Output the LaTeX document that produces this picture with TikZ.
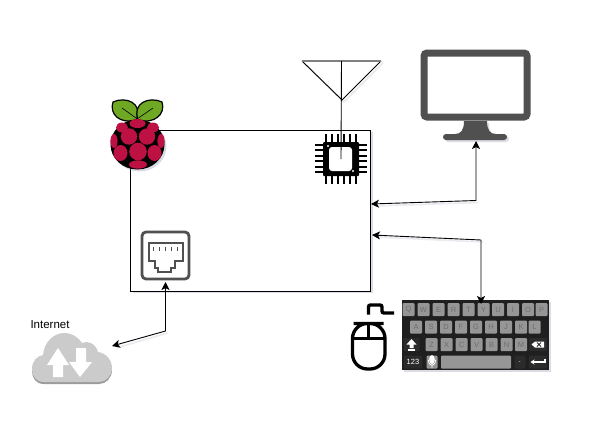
\documentclass[tikz,border=0pt]{standalone}
\usepackage{fontspec}
\setmainfont{Liberation Sans}
\usetikzlibrary{arrows.meta,shadows}
\definecolor{iconGray}{HTML}{505050}
\definecolor{keyGray}{HTML}{969696}
\definecolor{keyDark}{HTML}{2B2B2B}
\definecolor{keyText}{HTML}{6E6E6E}
\definecolor{cloudGray}{HTML}{CBCBCB}
\definecolor{cloudEdge}{HTML}{9C9C9C}
\definecolor{berry}{HTML}{BC1142}
\definecolor{leaf}{HTML}{6FA823}
\definecolor{shade}{HTML}{8A8AA8}
\tikzset{%
  soft/.style={
    drop shadow={shadow xshift=2pt,shadow yshift=-2pt,fill=shade,opacity=0.3}
  },
  softline/.style={
    draw=shade,
    opacity=0.18,
    line width=1.6pt,
    xshift=2pt,
    yshift=-2pt
  },
  link/.style={
    <->,
    >={Stealth[length=8pt,width=8pt,inset=2pt]},
    line width=0.9pt
  },
  key/.style={
    fill=keyGray,
    rounded corners=1pt,
    minimum width=12pt,
    minimum height=13pt,
    inner sep=0pt,
    text=keyText,
    font=\fontsize{7.5}{8}\selectfont
  },
  dark key/.style={
    key,
    fill=keyDark,
    minimum width=16pt,
    text=white
  },
  pin/.style={
    line width=2pt
  },
}

\begin{document}
\begin{tikzpicture}[x=1pt,y=-1pt]
  \useasboundingbox (0,0) rectangle (594,424);
  % board
  \node [draw=black, fill=white, soft, line width=0.9pt, inner sep=0pt, outer sep=0pt,
    minimum width=240pt, minimum height=161pt] (board) at (250.5,210.5) { };
  \coordinate (board-screen) at (371,204);
  \coordinate (board-keys) at (372,235);
  % antenna
  \draw [softline] (302,61) -- (342,100) -- (381,61);
  \draw [line width=0.9pt] (302,61) -- (342,100) -- (381,61);
  \draw [draw=gray, line width=1.3pt] (302,61) -- (381,61);
  \coordinate (antenna) at (341.5,61);
  % chip
  \draw [pin] (325.5,134) -- (325.5,142) (331.5,134) -- (331.5,142) (337.5,134) -- (337.5,142)
    (343.5,134) -- (343.5,142) (349.5,134) -- (349.5,142) (355.5,134) -- (355.5,142);
  \draw [pin] (325.5,176) -- (325.5,184) (331.5,176) -- (331.5,184) (337.5,176) -- (337.5,184)
    (343.5,176) -- (343.5,184) (349.5,176) -- (349.5,184) (355.5,176) -- (355.5,184);
  \draw [pin] (315,144.5) -- (323,144.5) (315,150) -- (323,150) (315,155.5) -- (323,155.5)
    (315,161) -- (323,161) (315,166.5) -- (323,166.5) (315,172) -- (323,172);
  \draw [pin] (359,144.5) -- (367,144.5) (359,150) -- (367,150) (359,155.5) -- (367,155.5)
    (359,161) -- (367,161) (359,166.5) -- (367,166.5) (359,172) -- (367,172);
  \node [fill=black, rounded corners=1pt, inner sep=0pt, minimum width=36pt, minimum height=34pt] (chip) at (341,159) { };
  \node [fill=white, rounded corners=3pt, inner sep=0pt, minimum width=23pt, minimum height=24pt] (die) at (340.5,159) { };
  \fill [white] (328,146) circle [radius=1.2pt] (353,171) circle [radius=1.2pt];
  \draw [line width=0.9pt] (antenna) -- (chip.center);
  % raspberry
  \fill [black, soft] (137.5,144.5) ellipse [x radius=27pt, y radius=25pt];
  \draw [draw=black, fill=leaf, line width=1.2pt] (136.5,119.5) .. controls (120,125) and (109,114) .. (113,102)
    .. controls (126,96) and (143,103) .. (136.5,119.5) -- cycle;
  \draw [draw=black, fill=leaf, line width=1.2pt] (138,119.5) .. controls (154,125) and (166,114) .. (162,102)
    .. controls (149,96) and (132,103) .. (138,119.5) -- cycle;
  \draw [black, line width=0.6pt] (136,118) -- (122,108) (138.5,118) -- (153,108);
  \fill [berry] (137.5,123.5) ellipse [x radius=8pt, y radius=4.5pt];
  \fill [berry] (122,127.5) ellipse [x radius=6pt, y radius=5pt];
  \fill [berry] (153,127.5) ellipse [x radius=6pt, y radius=5pt];
  \fill [berry] (129,136.5) ellipse [x radius=8.2pt, y radius=8.2pt];
  \fill [berry] (147,136.5) ellipse [x radius=8.2pt, y radius=8.2pt];
  \fill [berry] (114,141) ellipse [x radius=3.6pt, y radius=7pt];
  \fill [berry] (161,141) ellipse [x radius=3.6pt, y radius=7pt];
  \fill [berry] (138,151.5) ellipse [x radius=8.8pt, y radius=8.8pt];
  \fill [berry] (120.5,153) ellipse [x radius=7pt, y radius=8pt];
  \fill [berry] (154.5,153) ellipse [x radius=7pt, y radius=8pt];
  \fill [berry] (138,164.5) ellipse [x radius=9pt, y radius=4.2pt];
  % monitor
  \node [draw=iconGray, fill=white, soft, line width=7pt, rounded corners=3pt, inner sep=0pt,
    minimum width=103pt, minimum height=64pt] (screen) at (475.5,85) { };
  \fill [iconGray, soft] (464,121) -- (487,121) .. controls (487,130) and (490,134) .. (496,134) -- (504,134)
    .. controls (508,134) and (508,140) .. (504,140) -- (446,140) .. controls (442,140) and (442,134) .. (446,134)
    -- (455,134) .. controls (461,134) and (464,130) .. (464,121) -- cycle;
  \coordinate (screen-port) at (476,141);
  \coordinate (screen-bend) at (476,200.5);
  \draw [softline] (476,200.5) -- (373,204);
  \draw [link] (board-screen) -- (screen-bend) -- (screen-port);
  % keyboard
  \node [fill=black!88, soft, inner sep=0pt, minimum width=147pt, minimum height=70pt] (keyboard) at (475.5,335) { };
  \node [key] (key-q) at (408.5,309.5) {Q};
  \node [key] (key-w) at (423.5,309.5) {W};
  \node [key] (key-e) at (438.5,309.5) {E};
  \node [key] (key-r) at (453.5,309.5) {R};
  \node [key] (key-t) at (468.5,309.5) {T};
  \node [key] (key-y) at (483.5,309.5) {Y};
  \node [key] (key-u) at (498,309.5) {U};
  \node [key] (key-i) at (513,309.5) {I};
  \node [key] (key-o) at (528,309.5) {O};
  \node [key] (key-p) at (541.5,309.5) {P};
  \node [key] (key-a) at (416,327) {A};
  \node [key] (key-s) at (431,327) {S};
  \node [key] (key-d) at (446,327) {D};
  \node [key] (key-f) at (461,327) {F};
  \node [key] (key-g) at (476,327) {G};
  \node [key] (key-h) at (491,327) {H};
  \node [key] (key-j) at (506,327) {J};
  \node [key] (key-k) at (521,327) {K};
  \node [key] (key-l) at (534.5,327) {L};
  \node [dark key] (key-shift) at (411.5,344.5) { };
  \node [key] (key-z) at (431.5,344.5) {Z};
  \node [key] (key-x) at (446.5,344.5) {X};
  \node [key] (key-c) at (461.5,344.5) {C};
  \node [key] (key-v) at (476.5,344.5) {V};
  \node [key] (key-b) at (491.5,344.5) {B};
  \node [key] (key-n) at (506.5,344.5) {N};
  \node [key] (key-m) at (521,344.5) {M};
  \node [dark key, minimum width=18pt] (key-back) at (538,344.5) { };
  \node [dark key, minimum width=18pt] (key-num) at (413,362) {123};
  \node [key, minimum width=11pt] (key-mic) at (432,362) { };
  \node [key, minimum width=70pt] (key-space) at (476,362) { };
  \node [dark key, minimum width=11pt] (key-dot) at (520,362) {.};
  \node [dark key, minimum width=18pt] (key-enter) at (538,362) { };
  \fill [white] (411.5,339) -- (416.5,344.5) -- (413.5,344.5) -- (413.5,348) -- (409.5,348) -- (409.5,344.5) -- (406.5,344.5) -- cycle;
  \fill [white] (408,349) rectangle (415,350.5);
  \fill [white] (531.5,344.5) -- (535,341.5) -- (544,341.5) -- (544,347.5) -- (535,347.5) -- cycle;
  \draw [keyDark, line width=0.8pt] (537,342.5) -- (541,346.5) (541,342.5) -- (537,346.5);
  \draw [white, line width=1.3pt, -{Stealth[length=4pt,width=5pt]}] (545,358.5) -- (545,362) -- (530.5,362);
  \fill [white] (432,359.5) ellipse [x radius=2.8pt, y radius=4.5pt];
  \draw [white, line width=0.8pt] (428.5,360) .. controls (428.5,367) and (435.5,367) .. (435.5,360) (432,365) -- (432,368);
  \coordinate (keyboard-port) at (481,304);
  \coordinate (keyboard-bend) at (481,240);
  \draw [softline] (481,240) -- (374,235);
  \draw [link] (board-keys) -- (keyboard-bend) -- (keyboard-port);
  % mouse
  \draw [line width=3.3pt, rounded corners=15pt] (368.5,323.5) -- (385,323.5) -- (385,369) -- (352.5,369) -- (352.5,323.5) -- cycle;
  \draw [line width=2.6pt] (352.5,338.5) -- (385,338.5);
  \draw [line width=2.6pt] (368.5,323.5) -- (368.5,338.5);
  \draw [line width=3.4pt, rounded corners=2pt] (368.5,314.5) -- (368.5,305) -- (382,305) -- (382,313) -- (394,313);
  % ethernet jack
  \node [draw=iconGray, fill=white, line width=2.8pt, rounded corners=4pt, inner sep=0pt,
    minimum width=47pt, minimum height=47pt] (jack) at (165.5,255.5) { };
  \draw [iconGray, line width=2pt] (149,243) -- (183,243) -- (183,261) -- (175,261) -- (175,268) -- (171,268)
    -- (171,272) -- (158,272) -- (158,268) -- (155,268) -- (155,261) -- (149,261) -- cycle;
  \draw [iconGray, line width=1.4pt] (153.5,247) -- (153.5,251) (159.5,247) -- (159.5,251) (165.5,247) -- (165.5,251)
    (171.5,247) -- (171.5,251) (177.5,247) -- (177.5,251);
  \coordinate (jack-port) at (165.5,282);
  \coordinate (jack-bend) at (165.5,331);
  % cloud
  \fill [cloudEdge] (44,384) .. controls (36,384) and (32,378) .. (32,371) -- (112,370)
    .. controls (112,378) and (106,384) .. (99,384) -- cycle;
  \fill [cloudGray] (44,382) .. controls (36,382) and (32,376) .. (32,369) .. controls (32,361) and (37,356) .. (43,355)
    .. controls (44,342) and (54,333) .. (64,333) .. controls (72,333) and (78,337) .. (82,343)
    .. controls (88,340) and (96,344) .. (98,352) .. controls (106,353) and (112,360) .. (112,368)
    .. controls (112,376) and (106,382) .. (99,382) -- cycle;
  \fill [white] (58,348) -- (69,365) -- (63,365) -- (63,377) -- (53,377) -- (53,365) -- (47,365) -- cycle;
  \fill [white] (80,377) -- (69,362) -- (76,362) -- (76,348) -- (86,348) -- (86,362) -- (92,362) -- cycle;
  \node [inner sep=0pt, font=\fontsize{11.5}{12}\selectfont] (internet) at (50,325) {Internet};
  \coordinate (cloud) at (112,346);
  \draw [softline] (165.5,331) -- (114,346);
  \draw [link] (jack-port) -- (jack-bend) -- (cloud);
\end{tikzpicture}
\end{document}
